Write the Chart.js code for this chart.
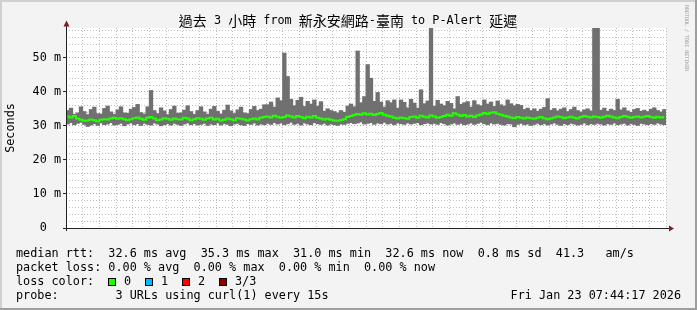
<!DOCTYPE html>
<html>
<head>
<meta charset="utf-8">
<script src="https://cdn.jsdelivr.net/npm/chart.js@4.4.1/dist/chart.umd.min.js"></script>
<style>
  html, body { margin: 0; padding: 0; background: #f3f3f3; }
  #wrap { width: 697px; height: 310px; position: relative; }
</style>
</head>
<body>
<div id="wrap"><canvas id="chart"></canvas></div>
<script>
// time axis: minutes after 04:00, one sample per minute starting 04:44:17
const startMinute = 44.28;
const endMinute = 224.28;
const tickLabels = { 60: '05:00', 80: '05:20', 100: '05:40', 120: '06:00', 140: '06:20',
                     160: '06:40', 180: '07:00', 200: '07:20', 220: '07:40' };

// smoke top (ms)
const smokeHigh = [
  34.5, 35.2, 33.4, 33.8, 35.6, 34.2, 33.3, 34.8, 35.5, 33.6, 33.5, 35.1, 35.8, 34.1, 33.4, 34.7, 35.6, 33.8, 33.7, 34.9,
  35.4, 36.3, 33.9, 33.5, 35.6, 40.4, 34.5, 33.6, 35.3, 34.4, 33.3, 34.8, 35.8, 33.7, 33.8, 34.6, 35.9, 34.2, 33.4, 34.5,
  35.6, 34.1, 33.4, 34.9, 35.7, 34.3, 33.5, 34.6, 36.1, 34.4, 33.6, 34.7, 35.5, 33.8, 33.6, 34.8, 35.7, 34.5, 34.9, 36.2,
  36.2, 37.0, 35.5, 38.2, 37.4, 51.4, 44.5, 37.8, 35.9, 37.5, 38.4, 35.7, 37.2, 36.4, 37.6, 35.8, 37.1, 34.3, 35.0, 34.5,
  34.2, 33.8, 34.5, 34.0, 35.8, 36.4, 35.6, 52.0, 36.8, 38.6, 48.0, 44.0, 37.2, 39.8, 37.0, 35.5, 37.4, 36.8, 37.6, 35.2,
  37.6, 36.9, 35.3, 37.8, 36.7, 35.2, 40.6, 36.5, 37.3, 62.0, 35.8, 37.5, 36.4, 35.9, 37.2, 36.6, 35.0, 38.6, 36.3, 36.8,
  37.1, 35.5, 37.4, 36.2, 35.9, 37.6, 36.4, 37.0, 35.7, 37.3, 36.2, 35.8, 37.6, 36.5, 35.9, 36.3, 36.0, 34.8, 35.2, 34.5,
  35.0, 34.3, 34.9, 35.4, 38.0, 34.6, 35.1, 34.4, 34.9, 35.3, 34.2, 34.8, 35.5, 34.5, 34.1, 34.7, 35.0, 34.4, 62.0, 62.0,
  34.6, 35.2, 34.3, 34.9, 34.5, 37.8, 34.7, 35.3, 34.4, 34.0, 34.8, 35.1, 34.3, 34.6, 34.2, 34.9, 35.3, 34.5, 34.1, 34.8
];

// smoke bottom (ms)
const smokeLow = [
  30.6, 31.0, 30.4, 30.8, 31.1, 30.5, 29.9, 30.3, 30.7, 30.2, 30.9, 30.4, 30.6, 31.0, 30.3, 30.5, 30.8, 30.1, 30.6, 30.9,
  30.4, 30.7, 30.2, 30.8, 30.5, 30.3, 30.9, 30.6, 30.1, 30.4, 30.7, 30.3, 30.8, 30.5, 30.2, 30.6, 30.9, 30.4, 30.7, 30.3,
  30.5, 30.8, 30.2, 30.6, 30.4, 30.9, 30.3, 30.7, 30.5, 30.1, 30.6, 30.8, 30.4, 30.2, 30.7, 30.5, 30.9, 30.3, 30.6, 30.4,
  30.8, 30.5, 31.0, 30.6, 30.9, 30.4, 30.7, 31.1, 30.5, 30.8, 30.3, 30.9, 30.6, 30.4, 31.0, 30.7, 30.5, 30.8, 30.3, 30.6,
  30.4, 30.2, 30.6, 30.5, 30.8, 31.0, 30.7, 30.9, 31.2, 30.6, 30.8, 31.0, 30.5, 30.9, 30.7, 31.1, 30.6, 30.8, 30.4, 30.9,
  30.7, 30.5, 30.9, 30.6, 30.8, 31.0, 30.4, 30.7, 30.9, 30.6, 30.8, 30.5, 31.0, 30.7, 30.3, 30.6, 30.9, 30.5, 30.8, 30.4,
  30.6, 30.9, 30.5, 30.8, 31.1, 30.7, 30.4, 30.9, 30.6, 30.8, 30.5, 30.3, 30.7, 30.6, 29.8, 30.5, 30.8, 30.4, 30.6, 30.2,
  30.5, 30.8, 30.4, 30.7, 30.3, 30.6, 30.9, 30.5, 30.2, 30.7, 30.4, 30.8, 30.6, 30.3, 30.5, 30.9, 30.4, 30.7, 30.5, 30.8,
  30.6, 30.3, 30.7, 30.5, 30.9, 30.4, 30.6, 30.8, 30.3, 30.7, 30.5, 30.2, 30.8, 30.6, 30.4, 30.7, 30.5, 30.9, 30.6, 30.4
];

// median rtt (ms), 0 loss
const medianRtt = [
  32.8, 32.5, 32.9, 32.2, 31.8, 31.5, 31.6, 31.9, 31.7, 31.4, 31.8, 32.0, 31.9, 32.2, 32.4, 32.1, 32.3, 32.0, 31.7, 32.0,
  32.3, 32.5, 32.1, 31.8, 32.4, 32.6, 32.2, 31.7, 31.9, 32.3, 32.1, 31.8, 32.2, 32.0, 31.9, 32.4, 32.2, 31.7, 32.0, 32.3,
  32.1, 31.8, 32.2, 32.4, 31.9, 32.1, 31.6, 31.8, 32.2, 32.0, 31.7, 32.3, 32.1, 31.9, 31.6, 32.0, 32.2, 31.9, 32.4, 32.6,
  32.8, 32.5, 33.0, 32.7, 32.4, 32.6, 33.1, 32.8, 32.5, 32.9, 32.6, 32.3, 32.7, 32.5, 32.9, 32.4, 32.2, 31.9, 32.1, 31.8,
  31.6, 31.5, 31.7, 32.0, 32.6, 32.9, 33.2, 33.5, 33.3, 33.7, 33.4, 33.6, 33.2, 33.5, 33.8, 33.3, 33.0, 32.8, 32.4, 32.2,
  32.5, 32.3, 32.1, 32.6, 32.8, 32.4, 33.0, 32.7, 32.5, 33.1, 32.8, 32.4, 32.6, 32.9, 33.3, 33.0, 33.7, 33.4, 32.9, 33.2,
  32.8, 33.0, 32.6, 33.1, 33.4, 33.8, 33.5, 33.9, 34.0, 33.6, 33.3, 33.0, 32.8, 32.5, 32.3, 32.6, 32.4, 32.2, 32.5, 32.3,
  32.1, 32.4, 32.6, 32.3, 32.0, 32.2, 32.5, 32.8, 32.6, 32.3, 32.5, 32.7, 32.4, 32.2, 32.6, 32.9, 32.7, 32.5, 32.8, 32.6,
  32.4, 32.7, 33.0, 32.8, 32.5, 32.3, 32.6, 32.9, 32.7, 32.4, 32.6, 32.8, 32.5, 32.7, 32.9, 32.6, 32.4, 32.7, 32.5, 32.6
];

const titleText = '過去 3 小時 from 新永安網路-臺南 to P-Alert 延遲';
const legendLines = [
  'median rtt:  32.6 ms avg  35.3 ms max  31.0 ms min  32.6 ms now  0.8 ms sd  41.3   am/s',
  'packet loss: 0.00 % avg  0.00 % max  0.00 % min  0.00 % now'
];
const lossLabels = ['0', '1', '2', '3/3'];
const lossColors = ['#20ff00', '#00b8ff', '#ff0000', '#8f0000'];
const probeText = 'probe:        3 URLs using curl(1) every 15s';
const stampText = 'Fri Jan 23 07:44:17 2026';

const MONO = '"DejaVu Sans Mono", monospace';
const FONT = '11.8px ' + MONO;
const MAJOR_GRID = 'rgba(235,110,110,0.75)';
const MINOR_GRID = 'rgba(180,180,180,0.85)';

const smokeData = smokeHigh.map((h, i) => ({ x: startMinute + i + 0.5, y: [smokeLow[i], h] }));
const medianData = medianRtt.map((v, i) => ({ x: startMinute + i + 0.5, y: v }));

function isMajor(v, step) {
  const r = Math.round(v);
  return Math.abs(v - r) < 1e-6 && r % step === 0;
}
function gridColor(step) {
  return ctx => (ctx.tick && isMajor(ctx.tick.value, step)) ? MAJOR_GRID : MINOR_GRID;
}

// draw text that mixes ascii (mono) and CJK glyphs
function drawMixed(ctx, text, cx, cy) {
  const runs = [];
  for (const ch of text) {
    const cjk = ch.charCodeAt(0) > 0x2e80;
    const last = runs[runs.length - 1];
    if (last && last.cjk === cjk) last.s += ch; else runs.push({ cjk: cjk, s: ch });
  }
  let total = 0;
  runs.forEach(r => {
    ctx.font = r.cjk ? '14px "Noto Sans CJK TC"' : FONT;
    r.w = ctx.measureText(r.s).width;
    total += r.w;
  });
  let x = cx - total / 2;
  ctx.textAlign = 'left';
  ctx.textBaseline = 'middle';
  runs.forEach(r => {
    ctx.font = r.cjk ? '14px "Noto Sans CJK TC"' : FONT;
    ctx.fillText(r.s, x, cy);
    x += r.w;
  });
}

const framePlugin = {
  id: 'frame',
  beforeDraw(chart) {
    const ctx = chart.ctx, a = chart.chartArea;
    ctx.save();
    ctx.fillStyle = '#f3f3f3';
    ctx.fillRect(0, 0, 697, 310);
    ctx.fillStyle = '#d0d0d0';
    ctx.fillRect(0, 0, 697, 2);
    ctx.fillRect(0, 0, 2, 310);
    ctx.fillStyle = '#9e9e9e';
    ctx.fillRect(0, 308, 697, 2);
    ctx.fillRect(695, 0, 2, 310);
    ctx.fillStyle = '#ffffff';
    ctx.fillRect(a.left, a.top, a.right - a.left, a.bottom - a.top);
    ctx.restore();
  },
  afterDraw(chart) {
    const ctx = chart.ctx, a = chart.chartArea;
    ctx.save();
    // axes with arrows
    ctx.strokeStyle = '#222';
    ctx.lineWidth = 1;
    ctx.beginPath();
    ctx.moveTo(a.left - 3, a.bottom + 0.5);
    ctx.lineTo(670, a.bottom + 0.5);
    ctx.moveTo(a.left + 0.5, a.bottom + 3);
    ctx.lineTo(a.left + 0.5, 25);
    ctx.stroke();
    ctx.fillStyle = '#7f1f1f';
    ctx.beginPath();
    ctx.moveTo(674, a.bottom + 0.5);
    ctx.lineTo(669, a.bottom - 2.5);
    ctx.lineTo(669, a.bottom + 3.5);
    ctx.closePath();
    ctx.fill();
    ctx.beginPath();
    ctx.moveTo(a.left + 0.5, 20.5);
    ctx.lineTo(a.left - 2.5, 26.5);
    ctx.lineTo(a.left + 3.5, 26.5);
    ctx.closePath();
    ctx.fill();

    ctx.fillStyle = '#000';
    drawMixed(ctx, titleText, 348, 21);

    // vertical axis title
    ctx.save();
    ctx.translate(11, (a.top + a.bottom) / 2);
    ctx.rotate(-Math.PI / 2);
    ctx.font = FONT;
    ctx.textAlign = 'center';
    ctx.textBaseline = 'middle';
    ctx.fillText('Seconds', 0, 0);
    ctx.restore();

    // legend
    ctx.font = FONT;
    ctx.textAlign = 'left';
    ctx.textBaseline = 'middle';
    ctx.fillText(legendLines[0], 16, 254);
    ctx.fillText(legendLines[1], 16, 268);
    ctx.fillText('loss color:', 16, 282);
    const boxX = [108, 145, 182, 219];
    lossLabels.forEach((lab, i) => {
      ctx.fillStyle = lossColors[i];
      ctx.fillRect(boxX[i] + 0.5, 278.5, 7, 7);
      ctx.strokeStyle = '#000';
      ctx.strokeRect(boxX[i] + 0.5, 278.5, 7, 7);
      ctx.fillStyle = '#000';
      ctx.fillText(lab, boxX[i] + 16, 282);
    });
    ctx.fillText(probeText, 16, 296);
    ctx.textAlign = 'right';
    ctx.fillText(stampText, 681, 296);

    // watermark
    ctx.save();
    ctx.translate(686, 5);
    ctx.rotate(Math.PI / 2);
    ctx.font = '5px ' + MONO;
    ctx.fillStyle = '#999';
    ctx.textAlign = 'left';
    ctx.textBaseline = 'middle';
    ctx.fillText('RRDTOOL / TOBI OETIKER', 0, 0);
    ctx.restore();
    ctx.restore();
  }
};

new Chart(document.getElementById('chart'), {
  data: {
    datasets: [
      {
        type: 'line',
        label: 'median rtt',
        data: medianData,
        borderColor: '#22ff00',
        borderWidth: 2,
        pointRadius: 0,
        stepped: 'middle',
        fill: false,
        order: 0
      },
      {
        type: 'bar',
        label: 'smoke',
        data: smokeData,
        backgroundColor: '#707070',
        borderWidth: 0,
        barPercentage: 1,
        categoryPercentage: 1,
        inflateAmount: 0.5,
        order: 1
      }
    ]
  },
  options: {
    responsive: true,
    maintainAspectRatio: false,
    animation: false,
    devicePixelRatio: 1,
    layout: { padding: { left: 0, right: 31, top: 28, bottom: 68 } },
    plugins: { legend: { display: false }, tooltip: { enabled: false } },
    scales: {
      x: {
        type: 'linear',
        offset: false,
        min: startMinute,
        max: endMinute,
        afterFit(scale) { scale.height = 14; },
        border: { display: false, dash: [1, 2] },
        grid: {
          offset: false,
          drawTicks: false,
          color: gridColor(20)
        },
        ticks: {
          stepSize: 5,
          includeBounds: false,
          autoSkip: false,
          maxRotation: 0,
          padding: 3,
          color: '#000',
          font: { family: MONO, size: 11.8 },
          callback: v => (isMajor(v, 20) && tickLabels[Math.round(v)]) ? tickLabels[Math.round(v)] : ''
        }
      },
      y: {
        min: 0,
        max: 58.8,
        afterFit(scale) { scale.width = 66; },
        border: { display: false, dash: [1, 2] },
        grid: {
          tickLength: 3,
          color: gridColor(10),
          tickColor: ctx => (ctx.tick && isMajor(ctx.tick.value, 10)) ? '#222' : 'rgba(0,0,0,0)'
        },
        ticks: {
          stepSize: 2,
          includeBounds: false,
          autoSkip: false,
          padding: 2,
          color: '#000',
          font: { family: MONO, size: 11.8 },
          callback: v => isMajor(v, 10) ? (v === 0 ? '0  ' : Math.round(v) + ' m') : ''
        }
      }
    }
  },
  plugins: [framePlugin]
});
</script>
</body>
</html>
